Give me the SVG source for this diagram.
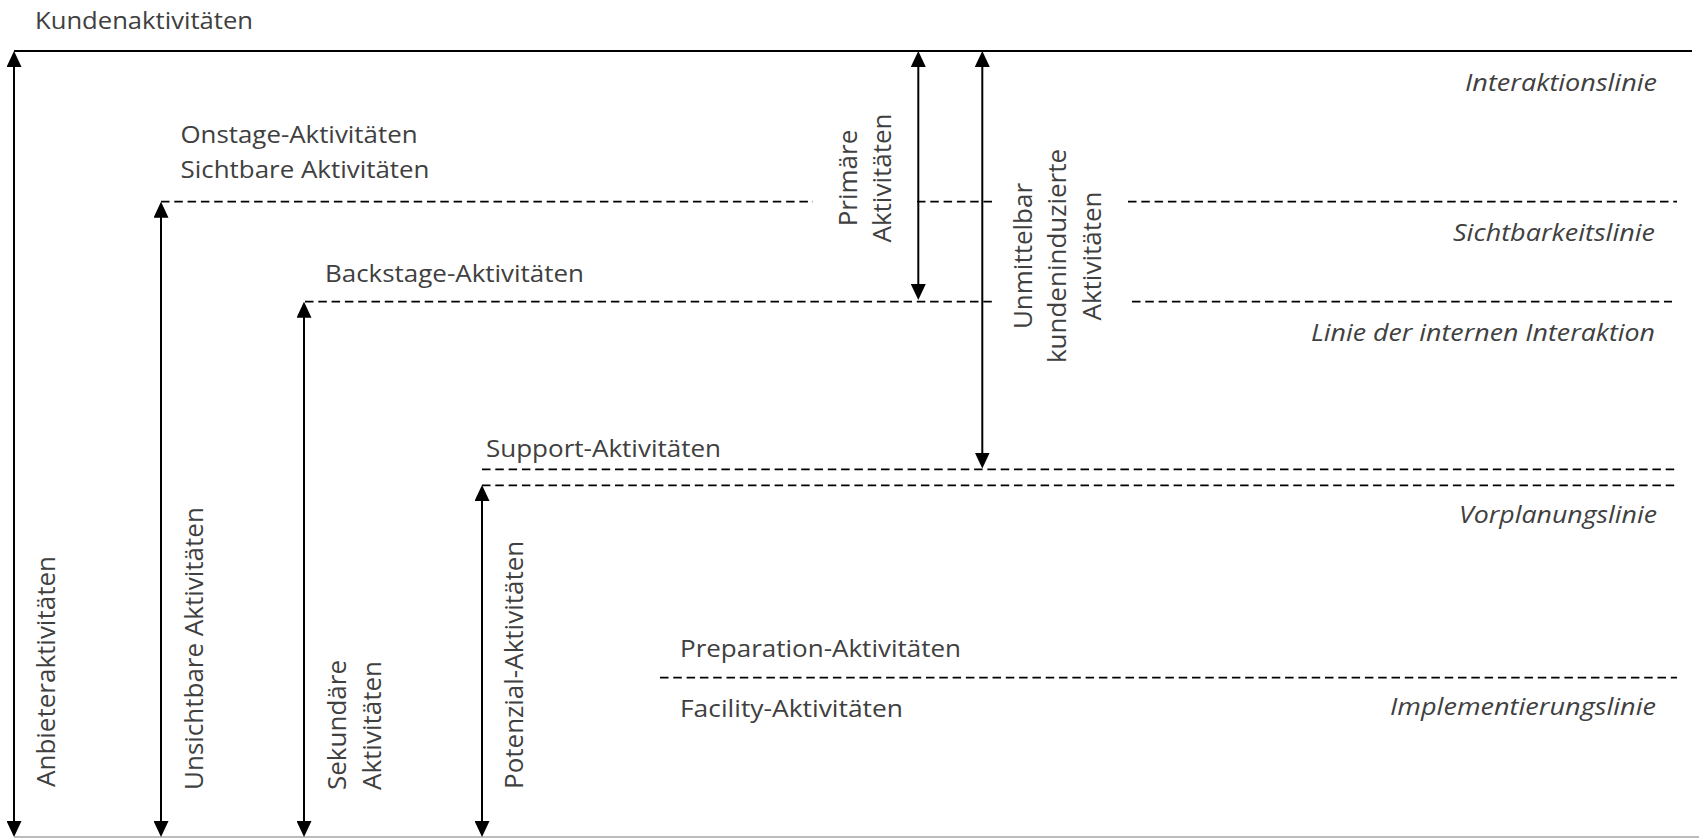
<svg xmlns="http://www.w3.org/2000/svg" width="1699" height="838" viewBox="0 0 1699 838">
  <style>
    .lbl { font-family: "Open Sans", "Liberation Sans", sans-serif; font-size: 24px; fill: #404040; }
    .ita { font-family: "Open Sans", "Liberation Sans", sans-serif; font-size: 24px; font-style: italic; fill: #404040; }
    .rot { font-family: "Open Sans", "Liberation Sans", sans-serif; font-size: 26px; fill: #404040; }
    .solid { stroke: #000; stroke-width: 2; fill: none; }
    .dash { stroke: #000; stroke-width: 1.8; fill: none; stroke-dasharray: 8.5 4.8; }
    .arr { stroke: #000; stroke-width: 2; fill: none; marker-start: url(#ah); marker-end: url(#ah); }
  </style>
  <defs>
    <marker id="ah" viewBox="0 0 16 15" refX="8" refY="7.5" markerWidth="16" markerHeight="15" markerUnits="userSpaceOnUse" orient="auto-start-reverse">
      <path d="M0,0 L16,7.5 L0,15 z" fill="#000"/>
    </marker>
  </defs>
  <rect width="1699" height="838" fill="#fff"/>

  <g id="connectors">
    <line class="solid" x1="14" y1="51" x2="1692" y2="51"/>
    <line x1="14" y1="837" x2="1699" y2="837" stroke="#a6a6a6" stroke-width="1.5"/>
    <line class="dash" x1="161" y1="201.7" x2="813" y2="201.7"/>
    <line class="dash" x1="917" y1="201.7" x2="993" y2="201.7"/>
    <line class="dash" x1="1128" y1="201.7" x2="1677" y2="201.7"/>
    <line class="dash" x1="305" y1="301.7" x2="993" y2="301.7"/>
    <line class="dash" x1="1132" y1="301.7" x2="1672" y2="301.7"/>
    <line class="dash" x1="482" y1="469.3" x2="1677" y2="469.3"/>
    <line class="dash" x1="482" y1="485.3" x2="1677" y2="485.3"/>
    <line class="dash" x1="660" y1="677.7" x2="1677" y2="677.7"/>
    <line class="arr" x1="14" y1="59" x2="14" y2="829"/>
    <line class="arr" x1="161" y1="209.7" x2="161" y2="829"/>
    <line class="arr" x1="304" y1="309.7" x2="304" y2="829"/>
    <line class="arr" x1="482" y1="493" x2="482" y2="829"/>
    <line class="arr" x1="918.3" y1="59" x2="918.3" y2="292"/>
    <line class="arr" x1="982.3" y1="59" x2="982.3" y2="460.5"/>
  </g>

  <g id="kundenaktivitaeten"><text class="lbl" x="35" y="29.3" textLength="218" lengthAdjust="spacingAndGlyphs">Kundenaktivitäten</text></g>
  <g id="onstage"><text class="lbl" x="180.5" y="142.7" textLength="237" lengthAdjust="spacingAndGlyphs">Onstage-Aktivitäten</text></g>
  <g id="sichtbare"><text class="lbl" x="180.5" y="177.7" textLength="249" lengthAdjust="spacingAndGlyphs">Sichtbare Aktivitäten</text></g>
  <g id="backstage"><text class="lbl" x="325" y="281.7" textLength="259" lengthAdjust="spacingAndGlyphs">Backstage-Aktivitäten</text></g>
  <g id="support"><text class="lbl" x="486" y="457.3" textLength="235" lengthAdjust="spacingAndGlyphs">Support-Aktivitäten</text></g>
  <g id="preparation"><text class="lbl" x="680" y="656.7" textLength="281" lengthAdjust="spacingAndGlyphs">Preparation-Aktivitäten</text></g>
  <g id="facility"><text class="lbl" x="680" y="716.7" textLength="223" lengthAdjust="spacingAndGlyphs">Facility-Aktivitäten</text></g>

  <g id="interaktionslinie"><text class="ita" x="1465" y="90.7" textLength="192" lengthAdjust="spacingAndGlyphs">Interaktionslinie</text></g>
  <g id="sichtbarkeitslinie"><text class="ita" x="1453" y="240.7" textLength="202" lengthAdjust="spacingAndGlyphs">Sichtbarkeitslinie</text></g>
  <g id="linie-interne-interaktion"><text class="ita" x="1311" y="340.7" textLength="344" lengthAdjust="spacingAndGlyphs">Linie der internen Interaktion</text></g>
  <g id="vorplanungslinie"><text class="ita" x="1459" y="523.3" textLength="198" lengthAdjust="spacingAndGlyphs">Vorplanungslinie</text></g>
  <g id="implementierungslinie"><text class="ita" x="1390" y="715" textLength="266" lengthAdjust="spacingAndGlyphs">Implementierungslinie</text></g>

  <g id="anbieteraktivitaeten"><text class="rot" transform="translate(54.5,787) rotate(-90)">Anbieteraktivitäten</text></g>
  <g id="unsichtbare"><text class="rot" transform="translate(203,790) rotate(-90)">Unsichtbare Aktivitäten</text></g>
  <g id="sekundaere"><text class="rot" transform="translate(346,790) rotate(-90)"><tspan x="0" y="0">Sekundäre</tspan><tspan x="0" y="34.5">Aktivitäten</tspan></text></g>
  <g id="potenzial"><text class="rot" transform="translate(522.7,789) rotate(-90)">Potenzial-Aktivitäten</text></g>
  <g id="primaere"><text class="rot" text-anchor="middle" transform="translate(856.7,178) rotate(-90)"><tspan x="0" y="0">Primäre</tspan><tspan x="0" y="34.5">Aktivitäten</tspan></text></g>
  <g id="unmittelbar"><text class="rot" text-anchor="middle" transform="translate(1031.7,256) rotate(-90)"><tspan x="0" y="0">Unmittelbar</tspan><tspan x="0" y="34.7">kundeninduzierte</tspan><tspan x="0" y="69.4">Aktivitäten</tspan></text></g>
</svg>
